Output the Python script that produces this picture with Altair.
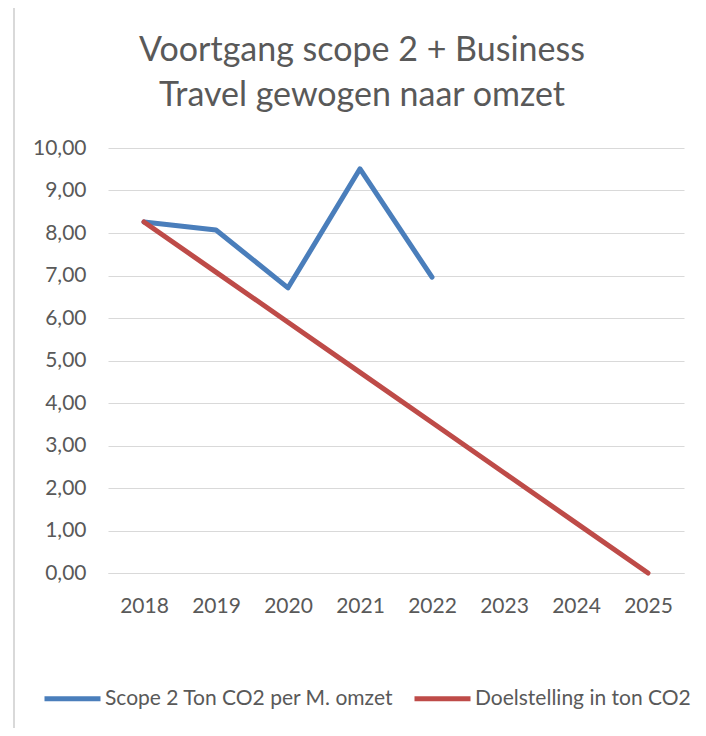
import altair as alt
import pandas as pd

years = ["2018", "2019", "2020", "2021", "2022", "2023", "2024", "2025"]
scope2_years = ["2018", "2019", "2020", "2021", "2022"]
scope2_values = [8.26, 8.07, 6.71, 9.51, 6.96]
target_values = [8.26, 7.08, 5.90, 4.72, 3.54, 2.36, 1.18, 0.00]
series_names = ["Scope 2 Ton CO2 per M. omzet", "Doelstelling in ton CO2"]
series_colors = ["#4A7EBB", "#BE4B48"]
title_lines = ["Voortgang scope 2 + Business", "Travel gewogen naar omzet"]

rows = []
for y, v in zip(scope2_years, scope2_values):
    rows.append({"jaar": y, "waarde": v, "serie": series_names[0]})
for y, v in zip(years, target_values):
    rows.append({"jaar": y, "waarde": v, "serie": series_names[1]})
df = pd.DataFrame(rows)

FONT = "Lato"
GREY = "#595959"

lines = alt.Chart(df).mark_line(strokeWidth=5, strokeCap="round", strokeJoin="round").encode(
    x=alt.X("jaar:N", sort=years, scale=alt.Scale(domain=years, paddingInner=0, paddingOuter=0.5),
            axis=alt.Axis(title=None, labelAngle=0, ticks=False, domain=True, domainColor="#D9D9D9",
                          domainWidth=1.2, grid=False, labelFontSize=21, labelColor=GREY,
                          labelFont=FONT, labelPadding=22)),
    y=alt.Y("waarde:Q", scale=alt.Scale(domain=[0, 10], nice=False),
            axis=alt.Axis(title=None, values=[0, 1, 2, 3, 4, 5, 6, 7, 8, 9, 10],
                          labelExpr="replace(format(datum.value, '.2f'), '.', ',')",
                          ticks=False, domain=False, grid=True, gridColor="#D9D9D9", gridWidth=1.2,
                          labelFontSize=21, labelColor=GREY, labelFont=FONT, labelPadding=22)),
    color=alt.Color("serie:N", scale=alt.Scale(domain=series_names, range=series_colors),
                    legend=alt.Legend(title=None, orient="none", legendX=-66, legendY=520,
                                      direction="horizontal", symbolType="stroke",
                                      symbolSize=3136, symbolStrokeWidth=5,
                                      labelFontSize=21, labelColor=GREY, labelFont=FONT,
                                      labelOffset=2, columnPadding=10, labelLimit=400)),
    order=alt.Order("jaar:N"),
)

border = pd.DataFrame({"k": [0]})
left_border = alt.Chart(border).mark_rule(color="#D9D9D9", strokeWidth=2).encode(
    x=alt.value(-94), y=alt.value(-147), y2=alt.value(600)
)
top_border = alt.Chart(border).mark_rule(color="#D9D9D9", strokeWidth=2).encode(
    x=alt.value(-95), x2=alt.value(600), y=alt.value(-147)
)

chart = alt.layer(left_border, top_border, lines).properties(
    width=576,
    height=425,
    autosize=alt.AutoSizeParams(type="none"),
    padding={"left": 100, "top": 140, "right": 14, "bottom": 155},
    title=alt.TitleParams(text=title_lines, fontSize=34, font=FONT, color=GREY, fontWeight="normal",
                          anchor="middle", dx=-34, offset=-113, lineHeight=45),
).configure_view(stroke=None)

chart.save("out.html", embed_options={"renderer": "svg", "actions": False})
